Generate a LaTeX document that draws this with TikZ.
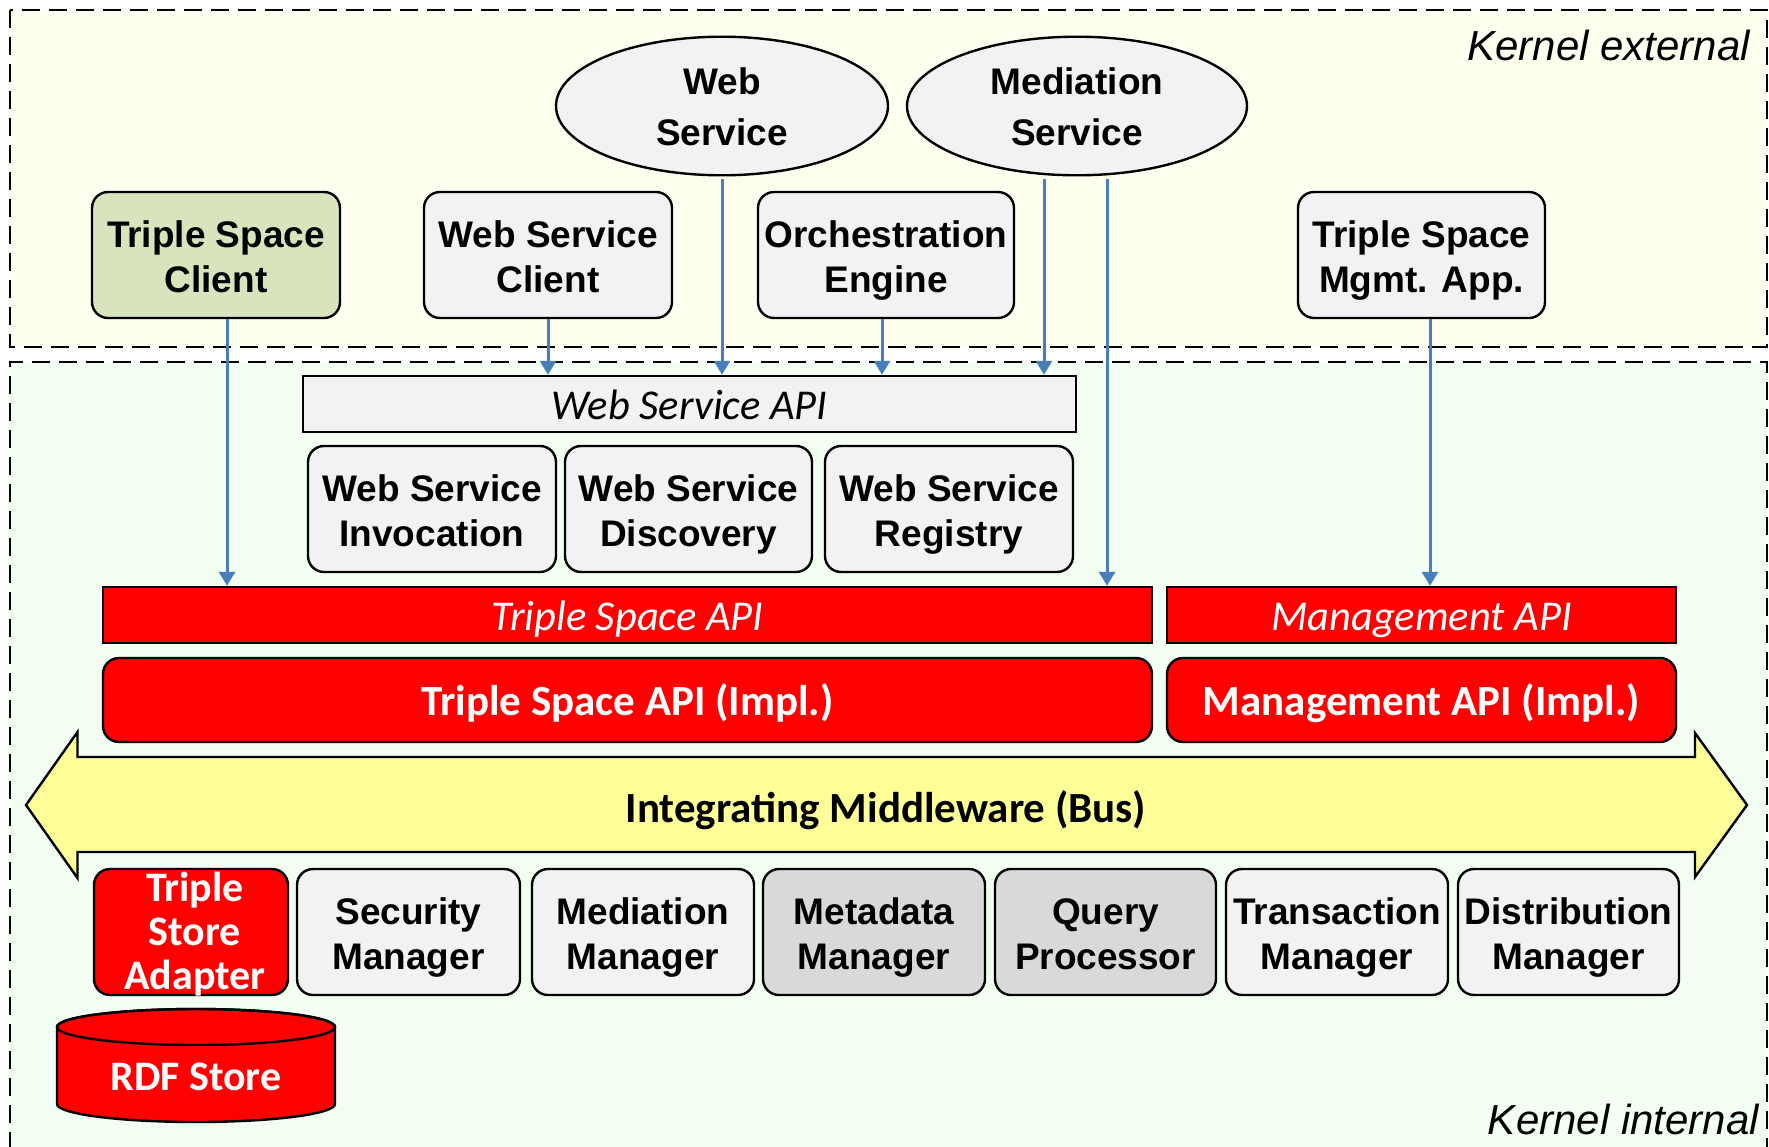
\documentclass[tikz,border=0pt]{standalone}
\usepackage{fontspec}
\setmainfont{Liberation Sans}
\newfontfamily\carlito{Carlito}
\usetikzlibrary{arrows.meta, shapes.geometric}

\definecolor{extbg}{RGB}{255,255,240}
\definecolor{intbg}{RGB}{242,255,242}
\definecolor{lgray}{RGB}{242,242,242}
\definecolor{mgray}{RGB}{217,217,217}
\definecolor{lgreen}{RGB}{215,228,189}
\definecolor{busyellow}{RGB}{255,255,153}
\definecolor{flowblue}{RGB}{74,126,187}

\begin{document}
\begin{tikzpicture}[x=1pt, y=-1pt,
  every node/.style={inner sep=0pt},
  % struts measured from the last baseline, so all multi-line labels sit alike
  lines/.style 2 args={execute at begin node={\rule{0pt}{#1}},
    execute at end node={\rule[-#2]{0pt}{#2}}},
  comp/.style={draw, line width=2.4pt, rounded corners=16pt, fill=lgray, align=center,
    minimum height=126pt, font=\bfseries\fontsize{37}{45}\selectfont, lines={84pt}{9pt}},
  svc/.style={ellipse, draw, line width=2.4pt, fill=lgray, align=center,
    minimum height=138pt, font=\bfseries\fontsize{37}{51}\selectfont, lines={89pt}{9pt}},
  oneline/.style={text height=34pt, text depth=3.4pt},
  api/.style={draw, line width=2.4pt, minimum height=56pt, oneline,
    font=\carlito\itshape\fontsize{42.5}{48}\selectfont},
  impl/.style={draw, line width=2.4pt, rounded corners=16pt, fill=red, text=white,
    minimum height=84pt, oneline, font=\carlito\bfseries\fontsize{43}{48}\selectfont},
  zone/.style={line width=2.5pt, dash pattern=on 18pt off 9pt},
  flow/.style={draw=flowblue, line width=3pt, -{Triangle[length=14pt,width=16pt]}},
  kernel/.style={anchor=east, font=\itshape\fontsize{42}{48}\selectfont}
]
\useasboundingbox (0,0) rectangle (1769,1147);

% the two kernel zones
\filldraw[zone, fill=extbg] (10,10) rectangle (1767,347);
\fill[intbg] (10,362) rectangle (1767,1147);
\draw[zone] (10,1150) -- (10,362) -- (1767,362) -- (1767,1150);
\node[kernel] (extlabel) at (1750,45.5) {Kernel external};
\node[kernel] (intlabel) at (1759,1119) {Kernel internal};

% external services and applications
\node[svc, minimum width=332pt] (websvc) at (722,106) {Web\\Service};
\node[svc, minimum width=340pt] (medsvc) at (1077,106) {Mediation\\Service};

\node[comp, fill=lgreen, minimum width=248pt] (tsclient) at (216,255) {Triple Space\\Client};
\node[comp, minimum width=248pt] (wsclient) at (548,255) {Web Service\\Client};
\node[comp, minimum width=256pt] (orch) at (886,255) {Orchestration\\Engine};
\node[comp, minimum width=247pt] (mgmtapp) at (1421.5,255) {Triple Space\\Mgmt. App.};

% web service layer
\node[api, fill=lgray, minimum width=773pt] (wsapi) at (689.5,404) {Web Service API};
\node[comp, minimum width=248pt] (wsinv) at (432,509) {Web Service\\Invocation};
\node[comp, minimum width=247pt] (wsdisc) at (688.5,509) {Web Service\\Discovery};
\node[comp, minimum width=248pt] (wsreg) at (949,509) {Web Service\\Registry};

% kernel APIs
\node[api, fill=red, text=white, minimum width=1049pt] (tsapi) at (627.5,615) {Triple Space API};
\node[api, fill=red, text=white, minimum width=509pt] (mgmtapi) at (1421.5,615) {Management API};
\node[impl, minimum width=1049pt] (tsimpl) at (627.5,700) {Triple Space API (Impl.)};
\node[impl, minimum width=509pt] (mgmtimpl) at (1421.5,700) {Management API (Impl.)};

% middleware bus
\filldraw[line width=2.4pt, fill=busyellow] (26,805) -- (77.5,732) -- (77.5,757) -- (1695,757)
  -- (1695,733) -- (1747,805) -- (1695,877) -- (1695,852) -- (77.5,852) -- (77.5,878) -- cycle;
\node[oneline, font=\carlito\bfseries\fontsize{43}{48}\selectfont] (bus) at (886,807) {Integrating Middleware (Bus)};

% kernel components
\node[comp, fill=red, text=white, inner ysep=-12pt, minimum width=194pt, lines={123pt}{9pt},
  font=\carlito\bfseries\fontsize{42}{44}\selectfont] (tsadapter) at (191,932) {\hspace*{8pt}Triple\\\hspace*{8pt}Store\\\hspace*{8pt}Adapter};
\node[comp, minimum width=223pt] (secmgr) at (408.5,932) {Security\\Manager};
\node[comp, minimum width=222pt] (medmgr) at (643,932) {Mediation\\Manager};
\node[comp, fill=mgray, minimum width=222pt] (metamgr) at (874,932) {Metadata\\Manager};
\node[comp, fill=mgray, minimum width=221pt] (query) at (1105.5,932) {Query\\Processor};
\node[comp, minimum width=222pt] (txmgr) at (1337,932) {Transaction\\Manager};
\node[comp, minimum width=221pt] (distmgr) at (1568.5,932) {Distribution\\Manager};

% RDF store drum
\filldraw[line width=2.4pt, fill=red] (57,1027) -- (57,1104)
  arc[start angle=180, end angle=360, x radius=139pt, y radius=18pt] -- (335,1027)
  arc[start angle=0, end angle=180, x radius=139pt, y radius=18pt] -- cycle;
\draw[line width=2.4pt] (196,1027) ellipse [x radius=139pt, y radius=18pt];
\node[text=white, oneline, font=\carlito\bfseries\fontsize{42}{48}\selectfont] (rdf) at (196,1075.5) {RDF Store};

% calls into the kernel
\draw[flow] ([xshift=11pt]tsclient.south) -- ([xshift=11pt]tsclient.south |- tsapi.north);
\draw[flow] (wsclient.south) -- (wsclient.south |- wsapi.north);
\draw[flow, shorten <=3pt] (websvc.south) -- (websvc.south |- wsapi.north);
\draw[flow] ([xshift=-4pt]orch.south) -- ([xshift=-4pt]orch.south |- wsapi.north);
\draw[flow, shorten <=3pt] ([xshift=-33pt]medsvc.south) -- ([xshift=-33pt]medsvc.south |- wsapi.north);
\draw[flow, shorten <=3pt] ([xshift=30pt]medsvc.south) -- ([xshift=30pt]medsvc.south |- tsapi.north);
\draw[flow] ([xshift=8.5pt]mgmtapp.south) -- ([xshift=8.5pt]mgmtapp.south |- tsapi.north);
\end{tikzpicture}
\end{document}
